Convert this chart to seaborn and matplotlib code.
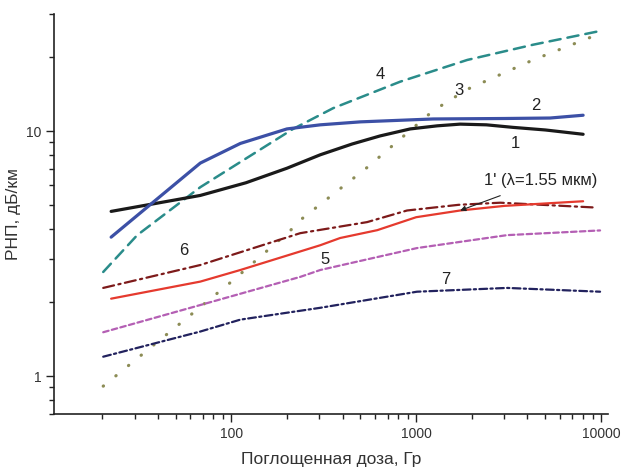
import numpy as np
import pandas as pd
import seaborn as sns
import matplotlib.pyplot as plt
from matplotlib.ticker import LogLocator, FixedLocator, NullFormatter

sns.set_theme(style="white")
plt.rcParams['font.family'] = ['Liberation Sans', 'DejaVu Sans']

# Кривые: поглощенная доза (Гр) и РНП (дБ/км)
x1 = [22.4, 68, 120, 200, 303, 450, 638, 929, 1300, 1730, 2400, 3340, 5000, 8000]
y1 = [4.7, 5.46, 6.15, 7.05, 8.0, 8.85, 9.55, 10.2, 10.5, 10.67, 10.6, 10.35, 10.1, 9.7]

x2 = [22.4, 68, 112, 200, 303, 500, 1235, 3000, 5300, 8000]
y2 = [3.69, 7.4, 8.9, 10.2, 10.6, 10.9, 11.2, 11.25, 11.3, 11.6]

x3 = [20.3, 103, 209, 236, 543, 1235, 1890, 4290, 9900]
y3 = [0.91, 2.47, 3.93, 4.33, 7.1, 12.1, 14.8, 19.5, 25.0]

x4 = [20.3, 31, 68, 216, 356, 820, 1890, 4290, 9880]
y4 = [2.66, 3.76, 5.9, 10.2, 12.4, 15.9, 19.5, 22.5, 25.6]

x5 = [20.3, 68, 236, 303, 1010, 3100, 9880]
y5 = [1.51, 1.95, 2.54, 2.71, 3.33, 3.76, 3.93]

x6 = [20.3, 68, 236, 543, 893, 1700, 2850, 9500]
y6 = [2.29, 2.84, 3.83, 4.25, 4.74, 5.0, 5.1, 4.87]

x7 = [20.3, 68, 112, 303, 1010, 3100, 9880]
y7 = [1.2, 1.52, 1.70, 1.9, 2.21, 2.29, 2.21]

x1p = [22.4, 68, 112, 303, 388, 616, 1000, 1730, 3000, 8000]
y1p = [2.07, 2.43, 2.71, 3.42, 3.66, 3.94, 4.45, 4.74, 4.95, 5.17]

curves = [
    (x4, y4, '#2a8c8a', (0, (4.5, 2.8)), 1.8),
    (x3, y3, '#8c8c55', (0, (0.1, 5.0)), 2.3),
    (x6, y6, '#7d1a1a', (0, (5, 2, 1, 2)), 1.6),
    (x1p, y1p, '#e53a2e', '-', 1.6),
    (x5, y5, '#b45fb4', (0, (2.5, 1.5)), 1.6),
    (x7, y7, '#22225e', (0, (3.5, 1.5, 1, 1.5)), 1.6),
    (x1, y1, '#1a1a1a', '-', 2.3),
    (x2, y2, '#3c50a6', '-', 2.3),
]

fig = plt.figure(figsize=(6.21, 4.70), dpi=100)
ax = fig.add_axes([0.087, 0.119, 0.892, 0.851])

for xs, ys, c, ls, lw in curves:
    df = pd.DataFrame({'x': xs, 'y': ys})
    sns.lineplot(data=df, x='x', y='y', ax=ax, color=c, linestyle=ls,
                 linewidth=lw, sort=False, dash_capstyle='round')

ax.set_xscale('log')
ax.set_yscale('log')
ax.set_xlim(11, 10900)
ax.set_ylim(0.7, 30)

ax.xaxis.set_major_locator(FixedLocator([100, 1000, 10000]))
ax.xaxis.set_minor_locator(LogLocator(base=10, subs=np.arange(2, 10)))
ax.xaxis.set_minor_formatter(NullFormatter())
ax.set_xticklabels(['100', '1000', '10000'])
ax.yaxis.set_major_locator(FixedLocator([1, 10]))
ax.yaxis.set_minor_locator(LogLocator(base=10, subs=np.arange(2, 10)))
ax.yaxis.set_minor_formatter(NullFormatter())
ax.set_yticklabels(['1', '10'])

for s in ['top', 'right']:
    ax.spines[s].set_visible(False)
for s in ['left', 'bottom']:
    ax.spines[s].set_color('#222222')
    ax.spines[s].set_linewidth(1.2)

ax.tick_params(which='major', direction='out', length=6, width=1, color='#222222',
               labelsize=10, labelcolor='#333333', left=True, bottom=True, pad=3)
ax.tick_params(which='minor', direction='out', length=3.5, width=1, color='#222222',
               left=True, bottom=True)

ax.set_xlabel('Поглощенная доза, Гр', fontsize=12.5, color='#333333', labelpad=8)
ax.set_ylabel('РНП, дБ/км', fontsize=12.5, color='#333333', labelpad=4)

# подписи кривых
lab = dict(fontsize=12, color='#222222', ha='center', va='center')
ax.text(638, 17.0, '4', **lab)
ax.text(1706, 14.6, '3', **lab)
ax.text(4460, 12.7, '2', **lab)
ax.text(3430, 8.9, '1', **lab)
ax.text(55, 3.27, '6', **lab)
ax.text(322, 2.98, '5', **lab)
ax.text(1452, 2.49, '7', **lab)
ax.annotate("1' (λ=1.55 мкм)", xy=(1730, 4.74), xytext=(4740, 6.28),
            fontsize=12, color='#222222', ha='center', va='center',
            arrowprops=dict(arrowstyle='-|>', color='#222222', lw=0.8,
                            shrinkA=9, shrinkB=0, mutation_scale=8))

fig.savefig('out.png', dpi=100)
